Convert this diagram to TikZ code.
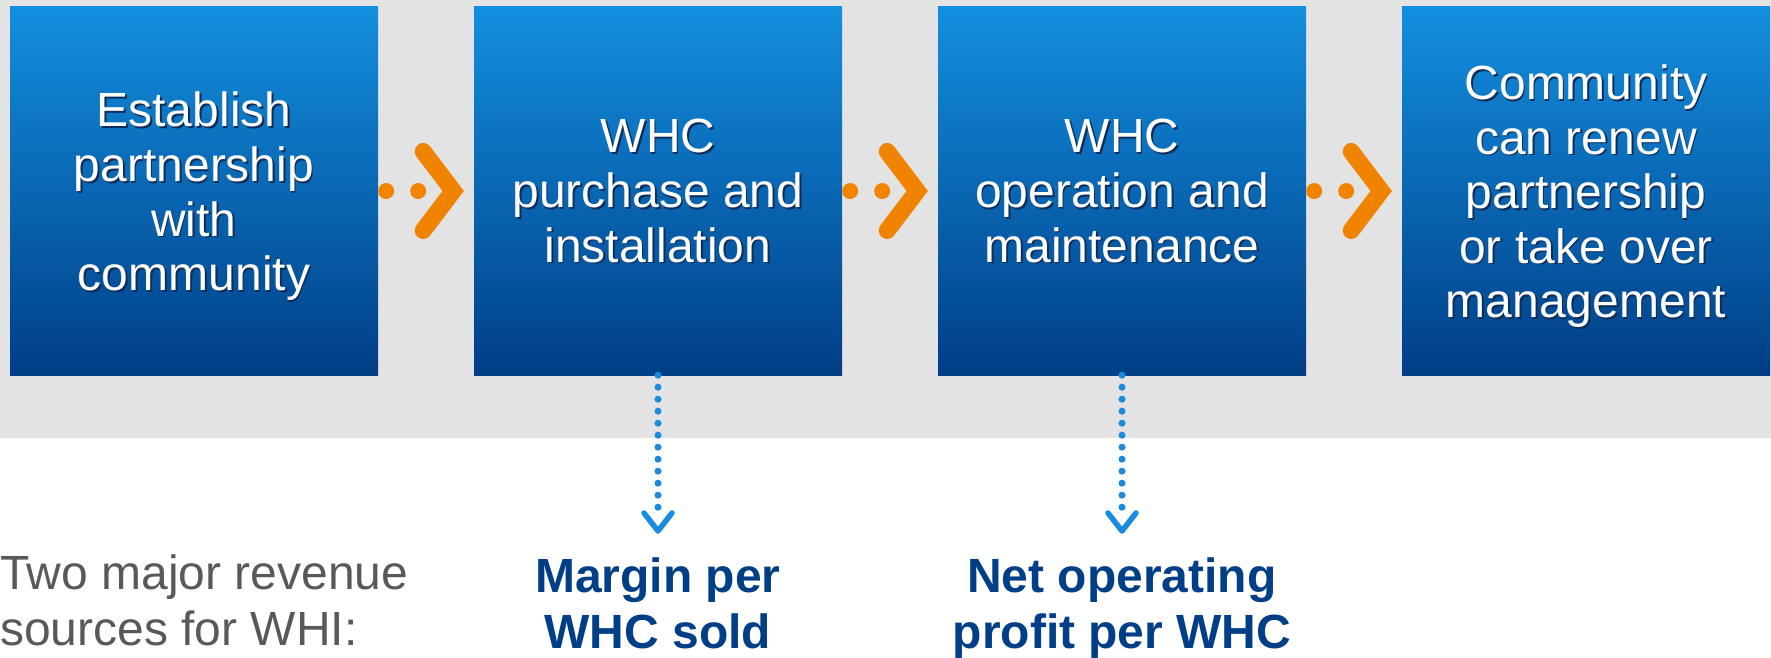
\documentclass[tikz,border=0pt]{standalone}
\usepackage{fontspec}
\setmainfont{Liberation Sans}
\usetikzlibrary{calc}
\definecolor{bandgrey}{RGB}{227,227,227}
\definecolor{boxtop}{RGB}{19,143,223}
\definecolor{boxbot}{RGB}{0,62,134}
\definecolor{orangeA}{RGB}{240,132,0}
\definecolor{dotblue}{RGB}{24,140,222}
\definecolor{navy}{RGB}{0,63,135}
\definecolor{greytxt}{RGB}{89,89,89}
\definecolor{shad}{RGB}{15,45,90}
\newcommand\shtxt[1]{\leavevmode\rlap{\kern1.6pt\raisebox{-1.6pt}{\textcolor{shad}{#1}}}#1}
\begin{document}
\begin{tikzpicture}[x=1pt,y=-1pt,
  stepbox/.style={rectangle, minimum width=368pt, minimum height=368pt, inner sep=0pt, draw=none, top color=boxtop, bottom color=boxbot},
  boxtxt/.style={anchor=north, inner sep=0pt, align=center, text=white, font=\fontsize{48}{54.6}\selectfont},
  revtxt/.style={anchor=north, inner sep=0pt, align=center, text=navy, font=\fontsize{48}{56}\selectfont\bfseries},
  srctxt/.style={anchor=north west, inner sep=0pt, align=left, text=greytxt, font=\fontsize{48}{56}\selectfont},
  chev/.style={draw=orangeA, line width=17pt, line cap=round, line join=miter},
  bluedots/.style={draw=dotblue, line width=7pt, line cap=round, dash pattern=on 0pt off 12pt},
  bluechev/.style={draw=dotblue, line width=5.5pt, line cap=round, line join=round}]
\useasboundingbox (0,0) rectangle (1771,658);
\fill[white] (0,0) rectangle (1771,658);
\fill[bandgrey] (0,0) rectangle (1771,438);

\node[stepbox] (b1) at (194,191) {};
\node[stepbox] (b2) at (658,191) {};
\node[stepbox] (b3) at (1122,191) {};
\node[stepbox] (b4) at (1586,191) {};

\node[boxtxt] (t1) at ($(b1.center)+(0,-99.1)$) {\shtxt{Establish}\\\shtxt{partnership}\\\shtxt{with}\\\shtxt{community}};
\node[boxtxt] (t2) at ($(b2.center)+(0,-71.8)$) {\shtxt{WHC}\\\shtxt{purchase and}\\\shtxt{installation}};
\node[boxtxt] (t3) at ($(b3.center)+(0,-71.8)$) {\shtxt{WHC}\\\shtxt{operation and}\\\shtxt{maintenance}};
\node[boxtxt] (t4) at ($(b4.center)+(0,-126.4)$) {\shtxt{Community}\\\shtxt{can renew}\\\shtxt{partnership}\\\shtxt{or take over}\\\shtxt{management}};

\foreach \a in {b1,b2,b3}{
  \fill[orangeA] ($(\a.east)+(8,0)$) circle[radius=8] ($(\a.east)+(40,0)$) circle[radius=8];
  \draw[chev] ($(\a.east)+(45,-39.5)$) -- ($(\a.east)+(75,0)$) -- ($(\a.east)+(45,39.5)$);
}

\node[srctxt] (src) at (0,555) {Two major revenue\\sources for WHI:};
\node[revtxt] (m2) at (658,558) {Margin per\\WHC sold};
\node[revtxt] (m3) at (1122,558) {Net operating\\profit per WHC};

\coordinate (a2) at ($(m2.north)+(0,-27)$);
\coordinate (a3) at ($(m3.north)+(0,-27)$);
\foreach \b/\t in {b2/a2,b3/a3}{
  \draw[bluedots] (\b.south) -- ($(\t)+(0,-12)$);
  \draw[bluechev] ($(\t)+(-14,-18)$) -- (\t) -- ($(\t)+(14,-18)$);
}
\end{tikzpicture}
\end{document}
